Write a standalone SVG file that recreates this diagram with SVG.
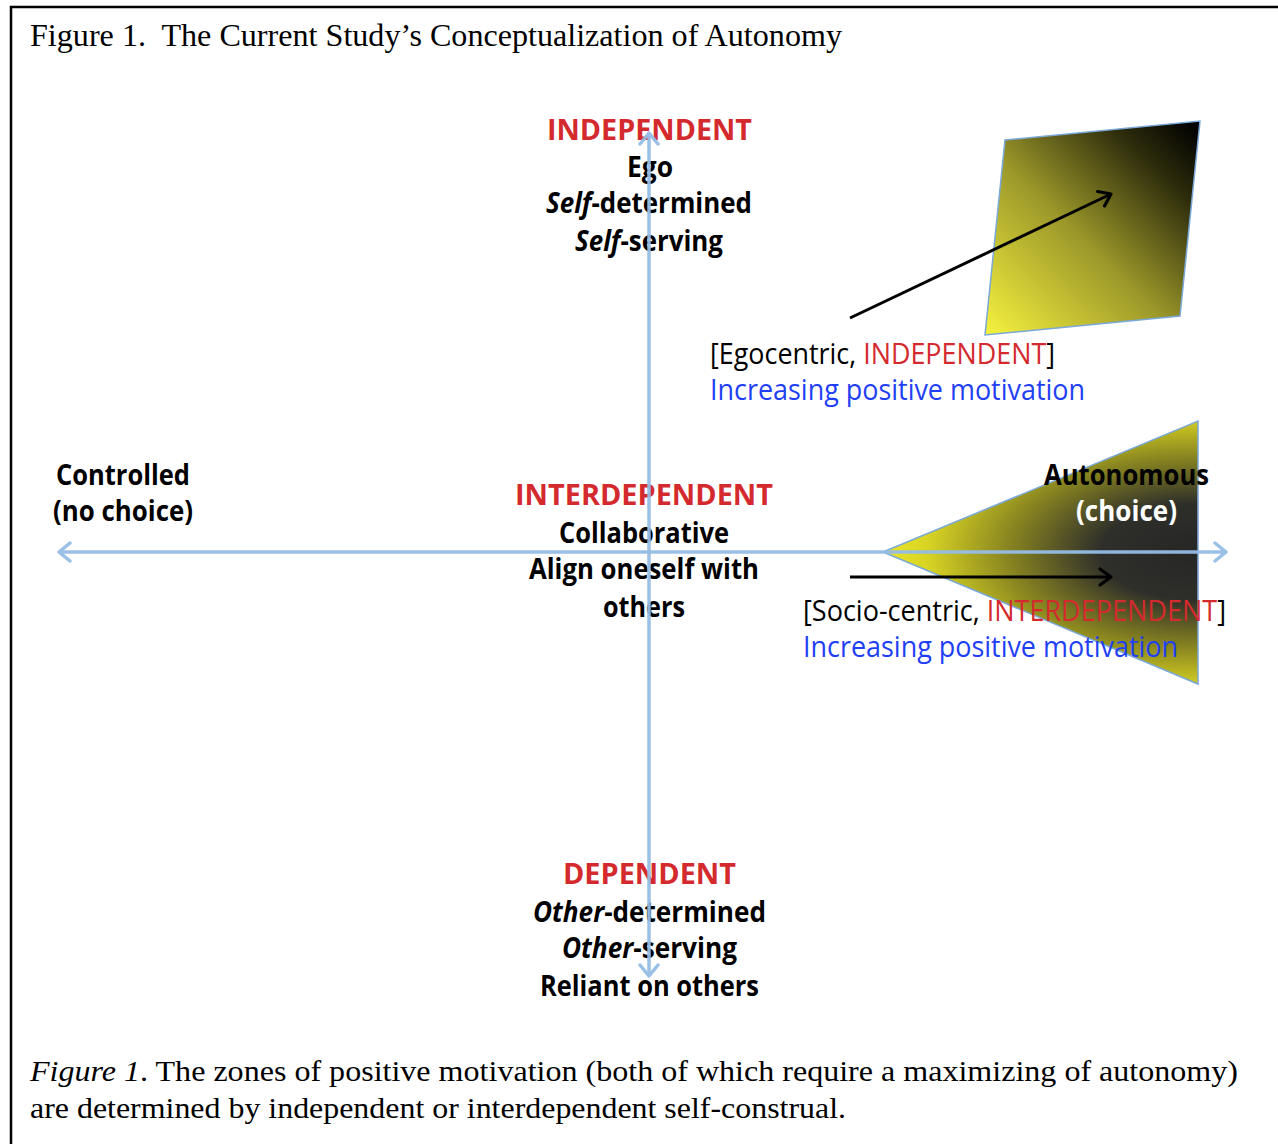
<svg xmlns="http://www.w3.org/2000/svg" width="1278" height="1144" viewBox="0 0 1278 1144">
<style>
.serif{font-family:"Liberation Serif","Times New Roman",serif;font-size:30px;fill:#000}
.title{font-size:31px}
.sans{font-family:"Open Sans","Liberation Sans",sans-serif;font-size:29px;fill:#000}
.b{font-weight:bold}
.red{fill:#d42a2e}
.blue{fill:#1f3ff5}
.white{fill:#fff}
.axis{stroke:#96bde6;stroke-width:3.5;fill:none}
.arr{stroke:#000;stroke-width:3;fill:none}
.zone{stroke:#7aa8d8;stroke-width:1.5}
</style>
<defs>
<marker id="axhead" markerUnits="userSpaceOnUse" markerWidth="30" markerHeight="30" viewBox="-15 -15 30 30" refX="0" refY="0" orient="auto-start-reverse">
<path d="M-11,-9 L0,0 L-11,9" fill="none" stroke="#96bde6" stroke-width="3.5" stroke-linejoin="round" stroke-linecap="round"/>
</marker>
<marker id="blkhead" markerUnits="userSpaceOnUse" markerWidth="30" markerHeight="30" viewBox="-15 -15 30 30" refX="0" refY="0" orient="auto">
<path d="M-11,-8 L0,0 L-11,8" fill="none" stroke="#000" stroke-width="3.2" stroke-linejoin="round" stroke-linecap="round"/>
</marker>
<linearGradient id="gQuad" gradientUnits="userSpaceOnUse" x1="990" y1="335" x2="1195" y2="125">
<stop offset="0" stop-color="#f4f03e"/>
<stop offset="0.45" stop-color="#9c982a"/>
<stop offset="0.8" stop-color="#2e2d0c"/>
<stop offset="1" stop-color="#000"/>
</linearGradient>
<radialGradient id="gTri" gradientUnits="userSpaceOnUse" cx="1198" cy="552" r="320" gradientTransform="translate(0 276) scale(1 0.5)">
<stop offset="0" stop-color="#262626"/>
<stop offset="0.3" stop-color="#2e2e2a"/>
<stop offset="0.6" stop-color="#8a8620"/>
<stop offset="0.85" stop-color="#d8d424"/>
<stop offset="1" stop-color="#eee828"/>
</radialGradient>
</defs>
<rect width="1278" height="1144" fill="#fff"/>
<path d="M11,1144 L11,7 L1278,7" fill="none" stroke="#000" stroke-width="2.5"/>
<text class="serif title" x="30" y="46" textLength="812" lengthAdjust="spacingAndGlyphs">Figure 1.&#160; The Current Study’s Conceptualization of Autonomy</text>

<g id="zone-independent">
<polygon class="zone" points="1005,140 1200,121 1180,316 985,335" fill="url(#gQuad)"/>
</g>
<g id="zone-interdependent">
<polygon class="zone" points="883,552 1198,421 1198,684" fill="url(#gTri)"/>
</g>

<g id="node-independent">
<text class="sans b red" x="547" y="140" textLength="205" lengthAdjust="spacingAndGlyphs">INDEPENDENT</text>
<text class="sans b" x="627" y="177" textLength="46" lengthAdjust="spacingAndGlyphs">Ego</text>
<text class="sans b" x="546" y="213" textLength="206" lengthAdjust="spacingAndGlyphs"><tspan font-style="italic">Self</tspan>-determined</text>
<text class="sans b" x="575" y="251" textLength="148" lengthAdjust="spacingAndGlyphs"><tspan font-style="italic">Self</tspan>-serving</text>
</g>

<g id="node-egocentric">
<text class="sans" x="710" y="364" textLength="345" lengthAdjust="spacingAndGlyphs">[Egocentric, <tspan class="red">INDEPENDENT</tspan>]</text>
<text class="sans blue" x="710" y="400" textLength="375" lengthAdjust="spacingAndGlyphs">Increasing positive motivation</text>
</g>

<g id="node-controlled">
<text class="sans b" x="56" y="485" textLength="134" lengthAdjust="spacingAndGlyphs">Controlled</text>
<text class="sans b" x="53" y="521" textLength="140" lengthAdjust="spacingAndGlyphs">(no choice)</text>
</g>

<g id="node-interdependent">
<text class="sans b red" x="515" y="505" textLength="258" lengthAdjust="spacingAndGlyphs">INTERDEPENDENT</text>
<text class="sans b" x="559" y="543" textLength="170" lengthAdjust="spacingAndGlyphs">Collaborative</text>
<text class="sans b" x="529" y="579" textLength="230" lengthAdjust="spacingAndGlyphs">Align oneself with</text>
<text class="sans b" x="603" y="617" textLength="82" lengthAdjust="spacingAndGlyphs">others</text>
</g>

<g id="node-autonomous">
<text class="sans b" x="1044" y="485" textLength="165" lengthAdjust="spacingAndGlyphs">Autonomous</text>
<text class="sans b white" x="1076" y="521" textLength="101" lengthAdjust="spacingAndGlyphs">(choice)</text>
</g>

<g id="node-sociocentric">
<text class="sans" x="803" y="621" textLength="423" lengthAdjust="spacingAndGlyphs">[Socio-centric, <tspan class="red">INTERDEPENDENT</tspan>]</text>
<text class="sans blue" x="803" y="657" textLength="375" lengthAdjust="spacingAndGlyphs">Increasing positive motivation</text>
</g>

<g id="node-dependent">
<text class="sans b red" x="563" y="884" textLength="173" lengthAdjust="spacingAndGlyphs">DEPENDENT</text>
<text class="sans b" x="533" y="922" textLength="233" lengthAdjust="spacingAndGlyphs"><tspan font-style="italic">Other</tspan>-determined</text>
<text class="sans b" x="562" y="958" textLength="175" lengthAdjust="spacingAndGlyphs"><tspan font-style="italic">Other</tspan>-serving</text>
<text class="sans b" x="540" y="996" textLength="219" lengthAdjust="spacingAndGlyphs">Reliant on others</text>
</g>

<g id="connectors">
<line class="axis" x1="59" y1="552" x2="1226" y2="552" marker-start="url(#axhead)" marker-end="url(#axhead)" opacity="0.95"/>
<line class="axis" x1="649" y1="133" x2="649" y2="976" marker-start="url(#axhead)" marker-end="url(#axhead)" opacity="0.95"/>
<line class="arr" x1="850" y1="318" x2="1111" y2="194" marker-end="url(#blkhead)"/>
<line class="arr" x1="850" y1="577" x2="1111" y2="577" marker-end="url(#blkhead)"/>
</g>

<g id="caption">
<text class="serif" x="30" y="1081" textLength="1208" lengthAdjust="spacingAndGlyphs"><tspan font-style="italic">Figure 1</tspan>. The zones of positive motivation (both of which require a maximizing of autonomy)</text>
<text class="serif" x="30" y="1118" textLength="816" lengthAdjust="spacingAndGlyphs">are determined by independent or interdependent self-construal.</text>
</g>
</svg>
